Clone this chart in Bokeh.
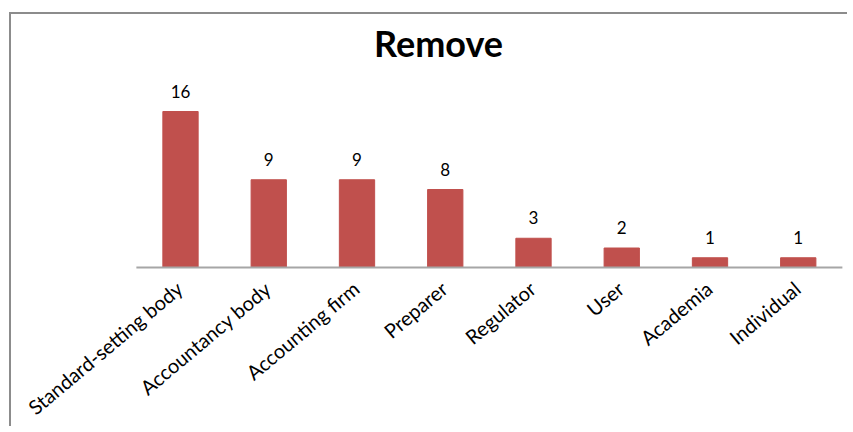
import math
import numpy as np
from bokeh.plotting import figure
from bokeh.models import ColumnDataSource, LabelSet, Label, Range1d
from bokeh.core.properties import value
from bokeh.embed import file_html
from bokeh.resources import INLINE

categories = ["Standard-setting body", "Accountancy body", "Accounting firm", "Preparer",
              "Regulator", "User", "Academia", "Individual"]
values = [16, 9, 9, 8, 3, 2, 1, 1]
title_text = "Remove"

n = len(categories)
xs = np.arange(n) + 0.5
src = ColumnDataSource(dict(x=xs, cat=categories, val=values, zero=[0] * n,
                            lab=[str(v) for v in values]))

W, H = 838, 414
px_per_cat = 88.25
px_per_unit = 9.75
first_center_px = 169
baseline_px = 253
x0 = 0.5 - first_center_px / px_per_cat
y1 = baseline_px / px_per_unit

p = figure(width=W, height=H, output_backend="svg", toolbar_location=None,
           x_range=Range1d(x0, x0 + W / px_per_cat),
           y_range=Range1d(y1 - H / px_per_unit, y1),
           min_border=0, min_border_left=0, min_border_right=0,
           min_border_top=0, min_border_bottom=0)
p.margin = (12, 0, 0, 9)
p.styles = {"border-left": "2px solid #8c8c8c", "border-top": "2px solid #8c8c8c"}

p.vbar(x="x", top="val", width=0.4, source=src, color="#C0504D")
p.segment(x0=[0], y0=[0], x1=[n], y1=[0], line_color="#A6A6A6", line_width=2)

vlabels = LabelSet(x="x", y="val", text="lab", source=src, text_align="center",
                   text_baseline="alphabetic", y_offset=14, text_font=value("Lato"),
                   text_font_size=value("17px"), text_color="#000000")
p.add_layout(vlabels)

xlabels = LabelSet(x="x", y="zero", text="cat", source=src, text_align="right",
                   text_baseline="alphabetic", x_offset=4, y_offset=-24,
                   angle=math.radians(40), text_font=value("Lato"),
                   text_font_size=value("20px"), text_color="#000000")
p.add_layout(xlabels)

p.add_layout(Label(x=427, y=386, x_units="screen", y_units="screen", text=title_text,
                   text_align="center", text_baseline="alphabetic", text_font="Lato",
                   text_font_style="bold", text_font_size="36px", text_color="#000000"))

p.xaxis.visible = False
p.yaxis.visible = False
p.xgrid.visible = False
p.ygrid.visible = False
p.outline_line_color = None

open("out.html", "w").write(file_html(p, INLINE))
